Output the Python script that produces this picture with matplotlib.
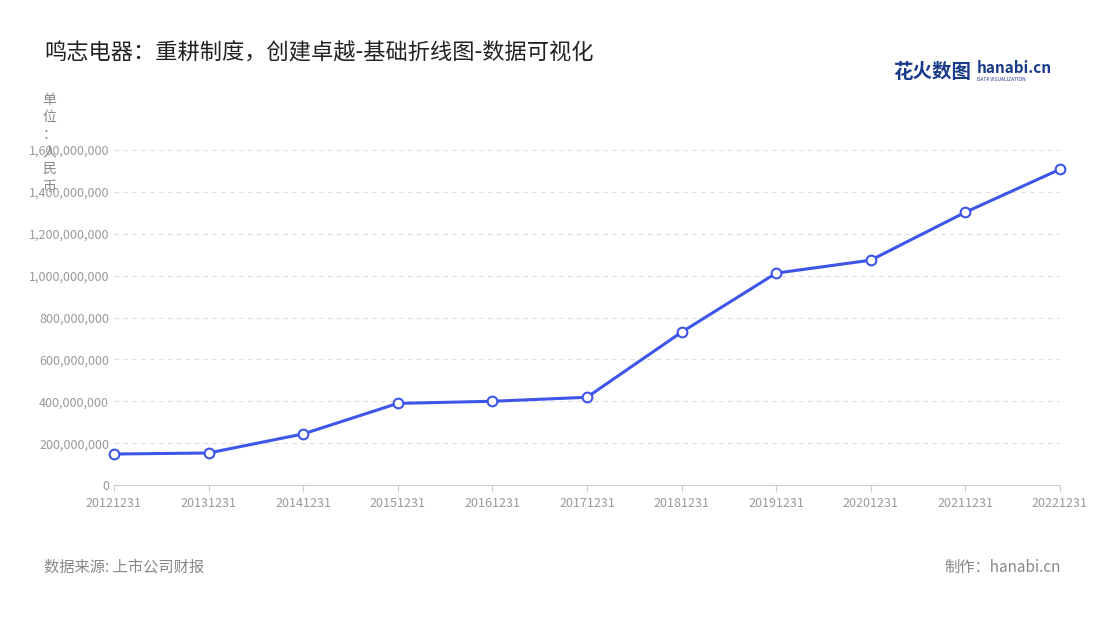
import matplotlib
matplotlib.use("Agg")
import matplotlib.pyplot as plt
from matplotlib.ticker import FuncFormatter

plt.rcParams['font.family'] = ['Noto Sans CJK SC', 'DejaVu Sans']

dates = ["20121231", "20131231", "20141231", "20151231", "20161231", "20171231",
         "20181231", "20191231", "20201231", "20211231", "20221231"]
values = [148e6, 153e6, 244e6, 390e6, 400e6, 419e6, 730e6, 1012e6, 1074e6, 1303e6, 1508e6]

fig = plt.figure(figsize=(11, 6.2), dpi=100)
ax = fig.add_axes([0.1036, 0.2177, 0.86, 0.5403])
x = range(len(dates))
ax.plot(x, values, color="#3d55e8", lw=2.2, marker="o", markersize=7,
        markerfacecolor="white", markeredgecolor="#3d55e8", markeredgewidth=1.5,
        zorder=3, clip_on=False)
ax.set_xlim(0, len(dates) - 1)
ax.set_ylim(0, 1.6e9)
ax.set_yticks([i * 2e8 for i in range(9)])
ax.yaxis.set_major_formatter(FuncFormatter(lambda v, p: f"{int(v):,}"))
ax.set_xticks(list(x))
ax.set_xticklabels(dates)
ax.tick_params(axis="both", colors="#999999", labelsize=9, length=0)
ax.tick_params(axis="x", length=5, color="#cccccc")
ax.grid(axis="y", ls=(0, (4, 4)), color="#dddddd", lw=0.8)
for s in ["top", "right", "left"]:
    ax.spines[s].set_visible(False)
ax.spines["bottom"].set_color("#cccccc")

fig.text(0.04, 0.915, "鸣志电器：重耕制度，创建卓越-基础折线图-数据可视化", fontsize=16, color="#222222", va="center")
fig.text(0.045, 0.85, "单\n位\n：\n人\n民\n币", fontsize=10, color="#888888", va="top", ha="center", linespacing=1.3)
fig.text(0.812, 0.883, "花火数图", fontsize=14, color="#1a3a8a", va="center", fontweight="bold")
fig.text(0.888, 0.89, "hanabi.cn", fontsize=11, color="#1a3a8a", va="center", fontweight="bold")
fig.text(0.888, 0.872, "DATA VISUALIZATION", fontsize=3.5, color="#1a3a8a", va="center")
fig.text(0.04, 0.085, "数据来源: 上市公司财报", fontsize=11, color="#888888", va="center")
fig.text(0.964, 0.085, "制作：hanabi.cn", fontsize=11, color="#888888", va="center", ha="right")

fig.savefig("out.png")
